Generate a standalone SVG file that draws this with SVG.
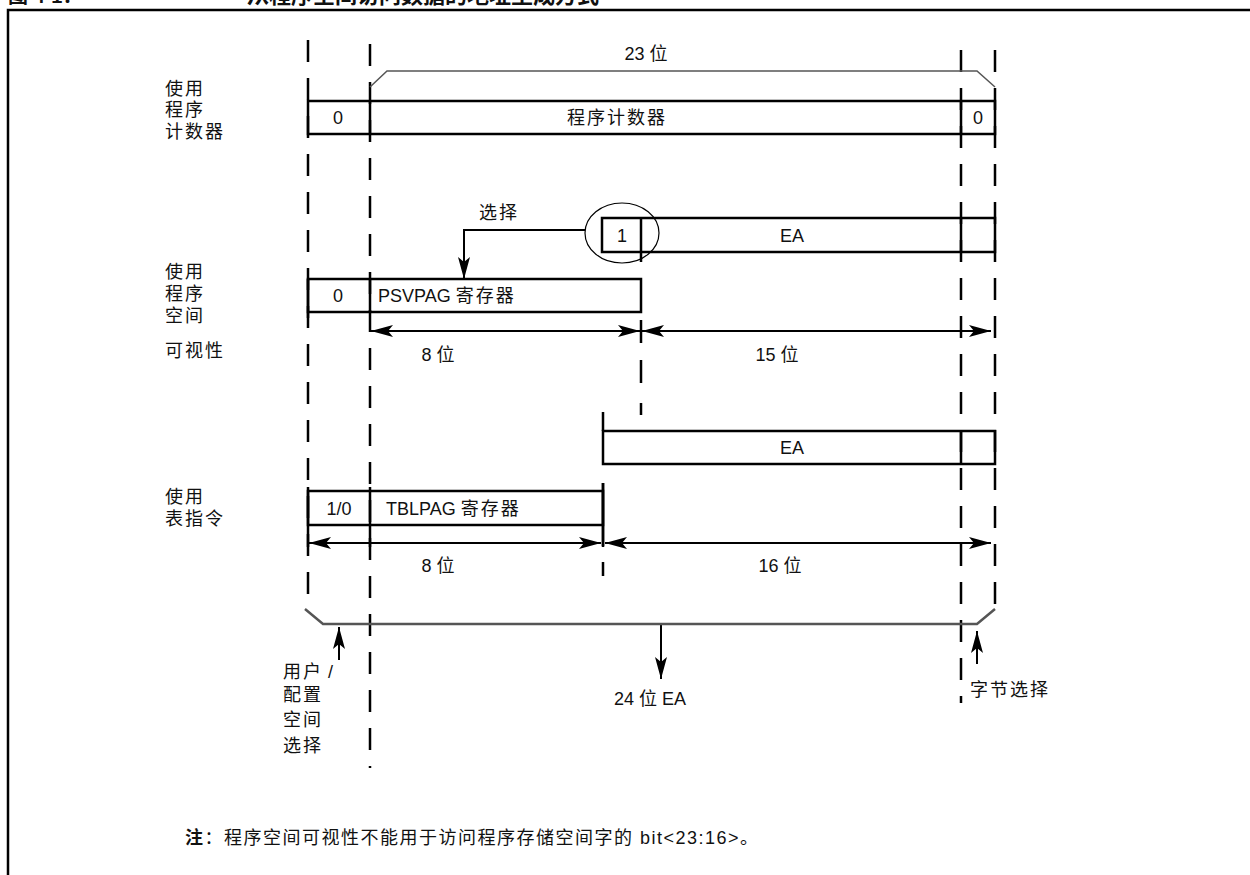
<svg xmlns="http://www.w3.org/2000/svg" width="1250" height="875" viewBox="0 0 1250 875">
<defs>
<marker id="ah" viewBox="0 0 22 12" refX="22" refY="6" markerWidth="22" markerHeight="12" markerUnits="userSpaceOnUse" orient="auto-start-reverse">
<path d="M0,0 L22,6 L0,12 L5,6 Z" fill="#000"/>
</marker>
<style>
text{font-family:"Liberation Sans","Noto Sans CJK SC",sans-serif;font-size:18px;fill:#111}
.c{text-anchor:middle}
.cj{letter-spacing:2px}
.box{fill:none;stroke:#000;stroke-width:2.5}
.ln{stroke:#000;stroke-width:2.5;fill:none}
.dash{stroke:#000;stroke-width:2.5;stroke-dasharray:22 16;fill:none}
.arr{stroke:#000;stroke-width:2;fill:none}
.brk{stroke:#555;fill:none}
</style>
</defs>
<rect width="1250" height="875" fill="#fff"/>
<g id="title">
<text x="8" y="3" style="font-size:20px;font-weight:bold">图 4-1：</text>
<text x="247" y="3" style="font-size:22px;font-weight:bold">从程序空间访问数据的地址生成方式</text>
</g>
<path id="frame" d="M8,875 L8,10 L1250,10" fill="none" stroke="#000" stroke-width="2.5"/>

<g id="guides">
<line class="dash" x1="308" y1="40" x2="308" y2="609"/>
<line class="dash" x1="370" y1="38" x2="370" y2="768" style="stroke-dashoffset:-6"/>
<line class="dash" x1="961" y1="50" x2="961" y2="703"/>
<line class="dash" x1="995" y1="50" x2="995" y2="609"/>
<path class="ln" d="M641,252 V262 M641,320 V343 M641,360 V383 M641,403 V415"/>
<path class="ln" d="M603,412 V431 M603,483 V546 M603,562 V576"/>
</g>

<g id="pc-row">
<text x="165" y="95" class="cj">使用</text>
<text x="165" y="116" class="cj">程序</text>
<text x="165" y="138" class="cj">计数器</text>
<rect class="box" x="308" y="101" width="687" height="33"/>
<line class="ln" x1="370" y1="101" x2="370" y2="134"/>
<line class="ln" x1="961" y1="101" x2="961" y2="134"/>
<text x="338" y="124" class="c">0</text>
<text x="617" y="124" class="c cj">程序计数器</text>
<text x="978" y="124" class="c">0</text>
</g>

<g id="bracket-23">
<path class="brk" stroke-width="1.5" d="M370,87 L387,71 L977,71 L995,87"/>
<text x="647" y="60" class="c">23 <tspan class="cj">位</tspan></text>
</g>

<g id="ea-psv">
<rect class="box" x="602" y="218" width="393" height="34"/>
<line class="ln" x1="641" y1="218" x2="641" y2="252"/>
<line class="ln" x1="961" y1="218" x2="961" y2="252"/>
<text x="622" y="242" class="c">1</text>
<text x="792" y="242" class="c">EA</text>
<ellipse cx="622" cy="233" rx="37" ry="30" fill="none" stroke="#000" stroke-width="1.2"/>
</g>

<g id="psvpag-row">
<text x="165" y="278" class="cj">使用</text>
<text x="165" y="300" class="cj">程序</text>
<text x="165" y="322" class="cj">空间</text>
<text x="165" y="357" class="cj">可视性</text>
<rect class="box" x="308" y="279" width="333" height="33"/>
<line class="ln" x1="370" y1="279" x2="370" y2="312"/>
<line class="ln" x1="308" y1="279" x2="308" y2="318"/>
<text x="338" y="302" class="c">0</text>
<text x="378" y="302">PSVPAG <tspan class="cj">寄存器</tspan></text>
</g>

<g id="ea-tbl">
<rect class="box" x="603" y="431" width="392" height="33"/>
<line class="ln" x1="961" y1="431" x2="961" y2="464"/>
<text x="792" y="454" class="c">EA</text>
</g>

<g id="tblpag-row">
<text x="165" y="503" class="cj">使用</text>
<text x="165" y="525" class="cj">表指令</text>
<rect class="box" x="308" y="491" width="295" height="34"/>
<line class="ln" x1="308" y1="487" x2="308" y2="547"/>
<line class="ln" x1="370" y1="487" x2="370" y2="547"/>
<line class="ln" x1="603" y1="483" x2="603" y2="547"/>
<text x="339" y="515" class="c">1/0</text>
<text x="386" y="515">TBLPAG <tspan class="cj">寄存器</tspan></text>
</g>

<g id="connectors">
<polyline class="arr" points="585,230 464,230 464,279" marker-end="url(#ah)"/>
<line class="arr" x1="371" y1="331" x2="640" y2="331" marker-start="url(#ah)" marker-end="url(#ah)"/>
<line class="arr" x1="642" y1="331" x2="991" y2="331" marker-start="url(#ah)" marker-end="url(#ah)"/>
<line class="arr" x1="309" y1="543" x2="601" y2="543" marker-start="url(#ah)" marker-end="url(#ah)"/>
<line class="arr" x1="605" y1="543" x2="991" y2="543" marker-start="url(#ah)" marker-end="url(#ah)"/>
<line class="arr" x1="661" y1="624" x2="661" y2="679" marker-end="url(#ah)"/>
<line class="arr" x1="339" y1="660" x2="339" y2="627" marker-end="url(#ah)"/>
<line class="arr" x1="977" y1="664" x2="977" y2="631" marker-end="url(#ah)"/>
</g>

<g id="labels">
<text x="499" y="219" class="c cj">选择</text>
<text x="438" y="361" class="c">8 位</text>
<text x="777" y="361" class="c">15 位</text>
<text x="438" y="572" class="c">8 位</text>
<text x="780" y="572" class="c">16 位</text>
</g>

<g id="bracket-24">
<path class="brk" stroke-width="2.5" d="M305,609 L323,624 L977,624 L995,609"/>
<text x="650" y="705" class="c">24 位 EA</text>
</g>

<g id="user-config">
<text x="283" y="678"><tspan class="cj">用户</tspan> /</text>
<text x="283" y="701" class="cj">配置</text>
<text x="283" y="726" class="cj">空间</text>
<text x="283" y="752" class="cj">选择</text>
</g>

<g id="byte-select">
<text x="970" y="696" class="cj">字节选择</text>
</g>

<g id="note">
<text x="185" y="844" style="letter-spacing:1.5px"><tspan style="font-weight:bold">注</tspan>：程序空间可视性不能用于访问程序存储空间字的 bit&lt;23:16&gt;。</text>
</g>
</svg>
